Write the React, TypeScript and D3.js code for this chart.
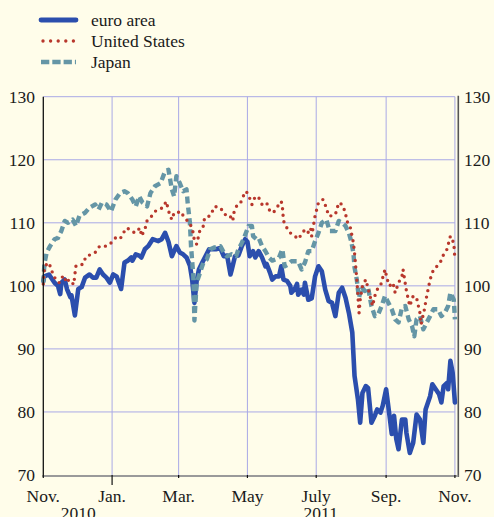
import React from "react";
import * as d3 from "d3";

type Pt = [string, number];

const seriesNames = ["euro area", "United States", "Japan"];

const euroArea: Pt[] = [
  ["2010-11-01", 100.8], ["2010-11-02", 101.5], ["2010-11-06", 101.8], ["2010-11-11", 100.5],
  ["2010-11-14", 100], ["2010-11-16", 98.7], ["2010-11-17", 100.5], ["2010-11-20", 101],
  ["2010-11-22", 99.5], ["2010-11-25", 98.2], ["2010-11-26", 98.5], ["2010-11-29", 95.3],
  ["2010-12-02", 99.5], ["2010-12-05", 99.8], ["2010-12-08", 101.3], ["2010-12-12", 101.8],
  ["2010-12-15", 101.3], ["2010-12-18", 101.3], ["2010-12-21", 102.6], ["2010-12-24", 101.8],
  ["2010-12-27", 101.3], ["2010-12-30", 100.5], ["2011-01-02", 101.8], ["2011-01-05", 101.5],
  ["2011-01-09", 99.5], ["2011-01-12", 103.7], ["2011-01-15", 104], ["2011-01-18", 104.5],
  ["2011-01-19", 104], ["2011-01-22", 105], ["2011-01-25", 104.8], ["2011-01-27", 104.5],
  ["2011-01-30", 105.8], ["2011-02-02", 106.3], ["2011-02-06", 107.4], ["2011-02-11", 107.1],
  ["2011-02-14", 107.4], ["2011-02-17", 108.4], ["2011-02-20", 107], ["2011-02-23", 104.7],
  ["2011-02-27", 106.3], ["2011-03-02", 105.3], ["2011-03-05", 105], ["2011-03-08", 104.5],
  ["2011-03-11", 103.2], ["2011-03-13", 101], ["2011-03-15", 97.3], ["2011-03-17", 100.8],
  ["2011-03-19", 102.6], ["2011-03-22", 103.7], ["2011-03-28", 105.8], ["2011-04-03", 105.8],
  ["2011-04-07", 106], ["2011-04-10", 104.7], ["2011-04-13", 104.8], ["2011-04-16", 101.8],
  ["2011-04-17", 102.5], ["2011-04-20", 104.7], ["2011-04-23", 104.8], ["2011-04-26", 106.3],
  ["2011-04-29", 107.4], ["2011-05-01", 107], ["2011-05-03", 104.7], ["2011-05-06", 105.5],
  ["2011-05-08", 104.5], ["2011-05-11", 105.5], ["2011-05-14", 104.5], ["2011-05-17", 103.1],
  ["2011-05-18", 103.5], ["2011-05-21", 102.1], ["2011-05-23", 101], ["2011-05-26", 101.5],
  ["2011-05-29", 101.5], ["2011-05-31", 103.1], ["2011-06-02", 101], ["2011-06-05", 100.8],
  ["2011-06-08", 100], ["2011-06-09", 98.9], ["2011-06-12", 99.5], ["2011-06-14", 100.3],
  ["2011-06-15", 98.6], ["2011-06-18", 99.4], ["2011-06-20", 98.6], ["2011-06-21", 100.5],
  ["2011-06-24", 97.8], ["2011-06-27", 98], ["2011-06-30", 101.5], ["2011-07-03", 103.1],
  ["2011-07-06", 102.3], ["2011-07-09", 99.4], ["2011-07-12", 97.6], ["2011-07-15", 97.3],
  ["2011-07-18", 95.2], ["2011-07-21", 98.9], ["2011-07-24", 99.7], ["2011-07-27", 98.1],
  ["2011-07-30", 95.7], ["2011-08-02", 92.6], ["2011-08-04", 85.7], ["2011-08-07", 82],
  ["2011-08-09", 78.3], ["2011-08-11", 83], ["2011-08-14", 84.1], ["2011-08-16", 83.8],
  ["2011-08-19", 78.3], ["2011-08-22", 79.4], ["2011-08-24", 80.4], ["2011-08-27", 79.9],
  ["2011-08-29", 81], ["2011-09-01", 83.6], ["2011-09-04", 79.4], ["2011-09-06", 76.5],
  ["2011-09-08", 79.4], ["2011-09-10", 75.7], ["2011-09-12", 74.1], ["2011-09-15", 78.8],
  ["2011-09-18", 78.8], ["2011-09-19", 76.7], ["2011-09-22", 73.5], ["2011-09-25", 75.1],
  ["2011-09-28", 79.6], ["2011-10-01", 78.8], ["2011-10-04", 75.1], ["2011-10-06", 80.4],
  ["2011-10-10", 82.5], ["2011-10-12", 84.4], ["2011-10-15", 83.6], ["2011-10-18", 82.8],
  ["2011-10-20", 81.5], ["2011-10-22", 84.1], ["2011-10-25", 84.6], ["2011-10-26", 83.6],
  ["2011-10-28", 88.1], ["2011-10-30", 86.2], ["2011-11-01", 81.5],
];

const unitedStates: Pt[] = [
  ["2010-11-01", 100.3], ["2010-11-02", 102.9], ["2010-11-05", 103.7], ["2010-11-08", 102.9],
  ["2010-11-09", 102.1], ["2010-11-12", 101], ["2010-11-15", 100.5], ["2010-11-17", 101.3],
  ["2010-11-20", 101.6], ["2010-11-21", 100.5], ["2010-11-24", 101], ["2010-11-28", 100.2],
  ["2010-11-29", 101.8], ["2010-11-30", 103.2], ["2010-12-06", 103.4], ["2010-12-09", 104.7],
  ["2010-12-14", 105], ["2010-12-17", 105.3], ["2010-12-21", 106.3], ["2010-12-27", 106.3],
  ["2010-12-31", 106.8], ["2011-01-04", 107.6], ["2011-01-08", 107.4], ["2011-01-11", 108.4],
  ["2011-01-14", 109.2], ["2011-01-17", 108.9], ["2011-01-21", 108.4], ["2011-01-26", 109.2],
  ["2011-01-27", 107.9], ["2011-01-30", 108.9], ["2011-02-01", 110.3], ["2011-02-04", 110.8],
  ["2011-02-08", 111.8], ["2011-02-11", 112.1], ["2011-02-15", 112.4], ["2011-02-18", 113.4],
  ["2011-02-21", 111.3], ["2011-02-23", 110.5], ["2011-02-25", 111.6], ["2011-02-28", 111.6],
  ["2011-03-03", 111.8], ["2011-03-06", 110.8], ["2011-03-09", 110.3], ["2011-03-12", 109.5],
  ["2011-03-14", 108.4], ["2011-03-15", 107.1], ["2011-03-17", 106.6], ["2011-03-20", 108.9],
  ["2011-03-23", 109.5], ["2011-03-24", 110.8], ["2011-03-29", 111.1], ["2011-04-02", 112.6],
  ["2011-04-07", 112.4], ["2011-04-11", 111.3], ["2011-04-15", 111.3], ["2011-04-18", 110.3],
  ["2011-04-19", 111.6], ["2011-04-22", 112.9], ["2011-04-25", 113.2], ["2011-04-28", 114.5],
  ["2011-04-30", 115], ["2011-05-03", 113.9], ["2011-05-05", 112.9], ["2011-05-08", 114.2],
  ["2011-05-11", 114], ["2011-05-14", 112.9], ["2011-05-18", 113.2], ["2011-05-21", 111.8],
  ["2011-05-24", 111.6], ["2011-05-27", 112.4], ["2011-05-31", 113.4], ["2011-06-01", 112.6],
  ["2011-06-02", 110.3], ["2011-06-05", 109.2], ["2011-06-08", 108.4], ["2011-06-12", 107.9],
  ["2011-06-15", 107.4], ["2011-06-20", 108.7], ["2011-06-23", 108.2], ["2011-06-26", 109.2],
  ["2011-06-27", 107.9], ["2011-06-30", 111.1], ["2011-07-03", 113.2], ["2011-07-07", 113.7],
  ["2011-07-10", 112.4], ["2011-07-12", 111.1], ["2011-07-15", 111.1], ["2011-07-18", 111.3],
  ["2011-07-21", 113.2], ["2011-07-24", 112.9], ["2011-07-27", 111.6], ["2011-07-28", 110.3],
  ["2011-07-31", 109.5], ["2011-08-03", 106.8], ["2011-08-04", 105.2], ["2011-08-05", 103.1],
  ["2011-08-06", 101], ["2011-08-07", 98.4], ["2011-08-08", 95.7], ["2011-08-09", 97.8],
  ["2011-08-11", 100], ["2011-08-14", 101], ["2011-08-17", 98.9], ["2011-08-20", 96.8],
  ["2011-08-22", 98.4], ["2011-08-24", 99.4], ["2011-08-27", 100], ["2011-08-29", 101.3],
  ["2011-08-31", 102.6], ["2011-09-02", 101], ["2011-09-04", 100], ["2011-09-07", 100.5],
  ["2011-09-09", 98.9], ["2011-09-12", 100.5], ["2011-09-15", 101.5], ["2011-09-16", 102.6],
  ["2011-09-19", 99.2], ["2011-09-22", 96.8], ["2011-09-25", 98.4], ["2011-09-28", 98.1],
  ["2011-10-01", 95.7], ["2011-10-02", 93.9], ["2011-10-05", 96.3], ["2011-10-07", 98.4],
  ["2011-10-10", 101], ["2011-10-13", 102.6], ["2011-10-16", 103.1], ["2011-10-19", 103.7],
  ["2011-10-22", 105], ["2011-10-25", 105.8], ["2011-10-28", 107.9], ["2011-10-31", 106.8],
  ["2011-11-01", 104.2],
];

const japan: Pt[] = [
  ["2010-11-01", 100.5], ["2010-11-02", 103.5], ["2010-11-04", 105.3], ["2010-11-07", 106.3],
  ["2010-11-11", 107.4], ["2010-11-14", 107.6], ["2010-11-17", 108.7], ["2010-11-20", 110.3],
  ["2010-11-23", 110], ["2010-11-27", 110.5], ["2010-11-30", 109.5], ["2010-12-03", 111.1],
  ["2010-12-08", 111.6], ["2010-12-12", 112.4], ["2010-12-17", 112.9], ["2010-12-20", 112.1],
  ["2010-12-23", 113.2], ["2010-12-27", 112.9], ["2010-12-31", 111.8], ["2011-01-04", 113.7],
  ["2011-01-08", 114.7], ["2011-01-12", 115], ["2011-01-15", 114.7], ["2011-01-19", 113.7],
  ["2011-01-22", 112.6], ["2011-01-25", 114.2], ["2011-01-28", 113.2], ["2011-02-01", 112.6],
  ["2011-02-04", 114.7], ["2011-02-08", 115.8], ["2011-02-13", 116.3], ["2011-02-17", 118.2],
  ["2011-02-20", 118.4], ["2011-02-23", 115.3], ["2011-02-25", 114.2], ["2011-02-27", 117.4],
  ["2011-03-02", 116.3], ["2011-03-05", 115], ["2011-03-08", 115.3], ["2011-03-09", 113.2],
  ["2011-03-11", 110], ["2011-03-12", 106.3], ["2011-03-14", 101.6], ["2011-03-15", 94.5],
  ["2011-03-17", 100.5], ["2011-03-20", 102.1], ["2011-03-23", 103.7], ["2011-03-26", 104.2],
  ["2011-03-29", 105.8], ["2011-04-02", 106.1], ["2011-04-07", 106.3], ["2011-04-10", 105.3],
  ["2011-04-13", 104.7], ["2011-04-17", 105], ["2011-04-21", 104.7], ["2011-04-23", 105.8],
  ["2011-04-26", 106.8], ["2011-04-28", 107.6], ["2011-05-02", 109.5], ["2011-05-05", 109.5],
  ["2011-05-06", 107.9], ["2011-05-09", 107.4], ["2011-05-11", 107.6], ["2011-05-14", 106.3],
  ["2011-05-17", 105.5], ["2011-05-20", 104.5], ["2011-05-23", 104], ["2011-05-26", 104.2],
  ["2011-05-29", 104.5], ["2011-06-01", 105.8], ["2011-06-03", 103.1], ["2011-06-06", 103.4],
  ["2011-06-09", 103.9], ["2011-06-12", 103.9], ["2011-06-15", 103.9], ["2011-06-18", 102.6],
  ["2011-06-21", 103.7], ["2011-06-24", 105.5], ["2011-06-27", 105.5], ["2011-06-30", 107.1],
  ["2011-07-03", 108.4], ["2011-07-06", 110], ["2011-07-10", 110.5], ["2011-07-13", 108.7],
  ["2011-07-18", 108.7], ["2011-07-21", 110.3], ["2011-07-24", 110], ["2011-07-27", 109.5],
  ["2011-07-30", 108.4], ["2011-08-01", 107.1], ["2011-08-03", 105.2], ["2011-08-04", 102.9],
  ["2011-08-06", 101], ["2011-08-07", 99.4], ["2011-08-08", 98.1], ["2011-08-10", 99.9],
  ["2011-08-13", 99.2], ["2011-08-16", 99.7], ["2011-08-19", 96.8], ["2011-08-22", 95.2],
  ["2011-08-25", 95.5], ["2011-08-28", 96.8], ["2011-08-31", 98.4], ["2011-09-03", 97.3],
  ["2011-09-06", 96.3], ["2011-09-09", 94.7], ["2011-09-12", 94.2], ["2011-09-15", 96.5],
  ["2011-09-18", 96.8], ["2011-09-21", 94.7], ["2011-09-24", 93.6], ["2011-09-26", 92],
  ["2011-09-28", 94.7], ["2011-10-01", 95.2], ["2011-10-04", 93.1], ["2011-10-07", 94.2],
  ["2011-10-10", 95.2], ["2011-10-13", 96.3], ["2011-10-17", 96.3], ["2011-10-20", 95.2],
  ["2011-10-23", 95.7], ["2011-10-26", 96.8], ["2011-10-28", 98.9], ["2011-10-31", 97.8],
  ["2011-11-01", 94.7],
];

const yTicks = [70, 80, 90, 100, 110, 120, 130];
const monthTicks = ["2010-11-01", "2011-01-01", "2011-03-01", "2011-05-01", "2011-07-01", "2011-09-01", "2011-11-01"];
const monthLabels = ["Nov.", "Jan.", "Mar.", "May", "July", "Sep.", "Nov."];
const yearLabels: [string, string][] = [["2010", "2010-12-02"], ["2011", "2011-07-05"]];

const parse = d3.timeParse("%Y-%m-%d");
const font = '"Liberation Serif", "Times New Roman", Times, "DejaVu Serif", serif';

export default function App() {
  const width = 494;
  const height = 517;
  const left = 43.3, right = 458.3, top = 96.7, bottom = 475;

  const x = d3.scaleTime()
    .domain([parse("2010-11-01")!, parse("2011-11-04")!])
    .range([left, right]);
  const y = d3.scaleLinear().domain([70, 130]).range([bottom, top]);

  const line = d3.line<Pt>()
    .x(d => x(parse(d[0])!))
    .y(d => y(d[1]));

  const gridColor = "#a9a9e6";
  const styles = [
    { color: "#2b4ead", width: 4.6, dash: undefined as string | undefined, cap: "round" as const },
    { color: "#b8372c", width: 3.4, dash: "0 6.6", cap: "round" as const },
    { color: "#6596a6", width: 4.4, dash: "7 4", cap: "butt" as const },
  ];
  const data = [euroArea, unitedStates, japan];
  const drawOrder = [0, 2, 1];
  const gridRight = x(parse("2011-11-01")!);
  const txt = { fontFamily: font, fontSize: "17.5px", fill: "#1a1a1a" };

  return (
    <svg width={width} height={height}
      style={{ position: "absolute", left: 0, top: 0, background: "#fffdea", display: "block", fontFamily: font }}>
      <rect width={width} height={height} fill="#fffdea" />

      {/* legend */}
      {seriesNames.map((name, i) => (
        <g key={name} transform={`translate(0, ${20 + i * 21})`}>
          <line x1={i === 1 ? 43 : 41} x2={76} y1={0} y2={0}
            stroke={styles[i].color} strokeWidth={i === 0 ? 4.8 : styles[i].width}
            strokeDasharray={i === 1 ? "0 7.6" : i === 2 ? "8.3 3" : undefined}
            strokeLinecap={styles[i].cap} />
          <text x={91} y={6} style={txt}>{name}</text>
        </g>
      ))}

      {/* grid */}
      {yTicks.slice(1).map(t => (
        <line key={"h" + t} x1={left} x2={gridRight} y1={y(t)} y2={y(t)} stroke={gridColor} strokeWidth={1} />
      ))}
      {monthTicks.slice(1).map(t => (
        <line key={"v" + t} x1={x(parse(t)!)} x2={x(parse(t)!)} y1={top} y2={bottom} stroke={gridColor} strokeWidth={1} />
      ))}

      {/* series */}
      {drawOrder.map(i => (
        <path key={i} d={line(data[i]) || ""} fill="none"
          stroke={styles[i].color} strokeWidth={styles[i].width}
          strokeDasharray={styles[i].dash} strokeLinecap={styles[i].cap}
          strokeLinejoin="round" />
      ))}

      {/* axes */}
      <line x1={left} x2={left} y1={top} y2={bottom + 2} stroke="#111" strokeWidth={1.3} />
      <line x1={right} x2={right} y1={top - 1} y2={bottom + 2} stroke="#555" strokeWidth={1.6} />
      <line x1={left} x2={right} y1={bottom + 1} y2={bottom + 1} stroke="#9a9a9a" strokeWidth={2} />
      {monthTicks.map((t, i) => {
        const xx = x(parse(t)!);
        const len = t === "2011-01-01" ? 10 : 3;
        return (
          <g key={"t" + t}>
            <line x1={xx} x2={xx} y1={bottom} y2={bottom + len} stroke="#111" strokeWidth={1.2} />
            <text x={xx} y={501.5} textAnchor="middle" style={txt}>{monthLabels[i]}</text>
          </g>
        );
      })}
      {yearLabels.map(([label, d]) => (
        <text key={label} x={x(parse(d)!)} y={519} textAnchor="middle" style={txt}>{label}</text>
      ))}
      {yTicks.map(t => (
        <g key={"y" + t}>
          <text x={35} y={y(t) + 6} textAnchor="end" style={txt}>{t}</text>
          <text x={464} y={y(t) + 6} textAnchor="start" style={txt}>{t}</text>
        </g>
      ))}
    </svg>
  );
}
